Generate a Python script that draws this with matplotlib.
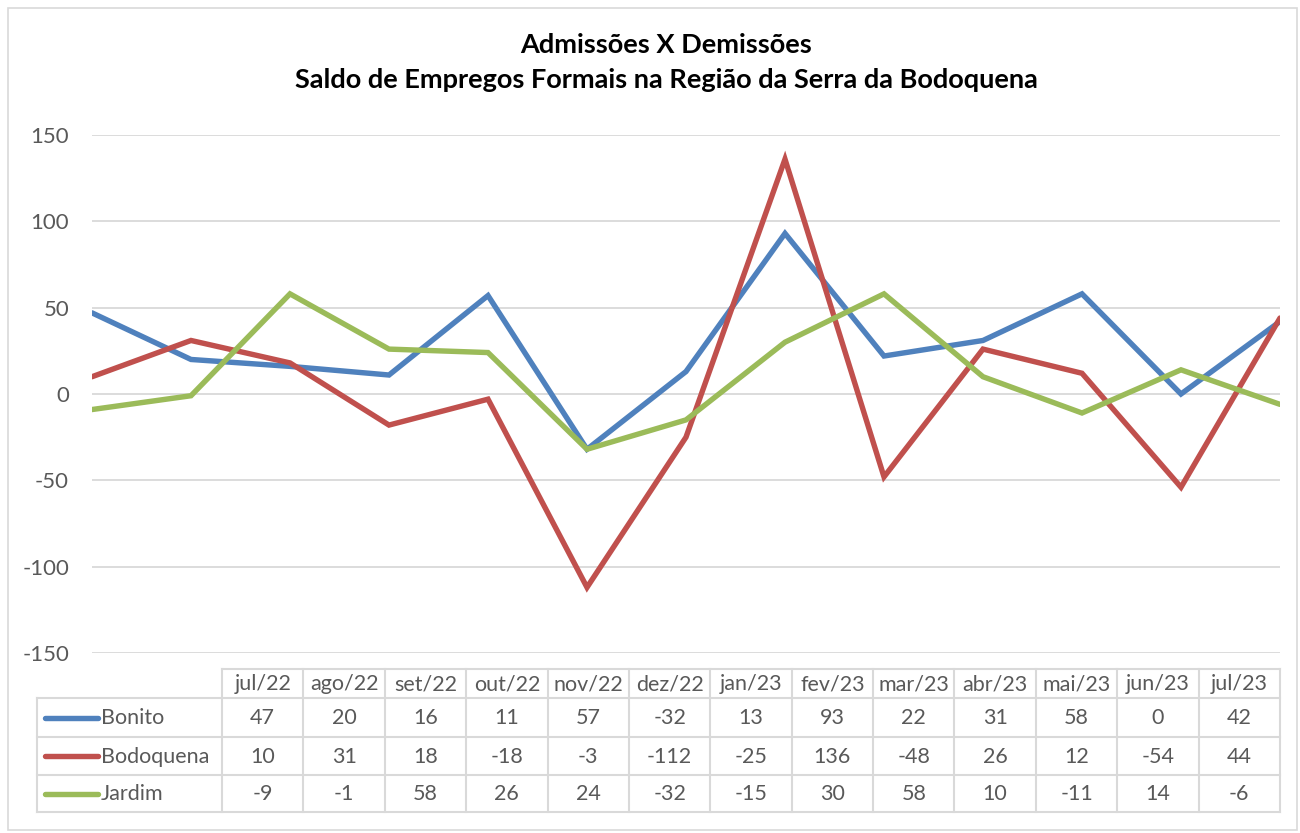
import numpy as np
import matplotlib.pyplot as plt
from matplotlib.patches import Rectangle

plt.rcParams['font.family'] = ['Lato', 'DejaVu Sans']
plt.rcParams['axes.unicode_minus'] = False

# dados
meses = ["jul/22", "ago/22", "set/22", "out/22", "nov/22", "dez/22", "jan/23",
         "fev/23", "mar/23", "abr/23", "mai/23", "jun/23", "jul/23"]
bonito = [47, 20, 16, 11, 57, -32, 13, 93, 22, 31, 58, 0, 42]
bodoquena = [10, 31, 18, -18, -3, -112, -25, 136, -48, 26, 12, -54, 44]
jardim = [-9, -1, 58, 26, 24, -32, -15, 30, 58, 10, -11, 14, -6]

series = [("Bonito", bonito, "#4F81BD"),
          ("Bodoquena", bodoquena, "#C0504D"),
          ("Jardim", jardim, "#9BBB59")]

W, H = 1300, 833
txt = "#595959"
grid = "#D9D9D9"

fig = plt.figure(figsize=(W / 100, H / 100), dpi=100)

# camada em pixels para moldura e tabela
ov = fig.add_axes([0, 0, 1, 1])
ov.set_xlim(0, W)
ov.set_ylim(H, 0)
ov.axis('off')
ov.add_patch(Rectangle((8, 8), 1289, 822, fill=False, edgecolor=grid, lw=1.2))

# grafico de linhas
ax = fig.add_axes([92 / W, 1 - 653 / H, (1280 - 92) / W, (653 - 135) / H])
ax.set_facecolor('none')
x = np.arange(len(meses))
for nome, vals, cor in series:
    ax.plot(x, vals, color=cor, lw=3.9, solid_capstyle='round', solid_joinstyle='miter')
ax.set_xlim(0, len(meses) - 1)
ax.set_ylim(-150, 150)
ax.set_yticks([-150, -100, -50, 0, 50, 100, 150])
ax.yaxis.grid(True, color=grid, lw=1.3)
ax.set_axisbelow(True)
ax.set_xticks([])
for s in ax.spines.values():
    s.set_visible(False)
ax.tick_params(axis='y', length=0, pad=16.5, labelsize=16, labelcolor=txt)

# titulo
fig.text(666 / W, 1 - 45 / H, "Admissões X Demissões", ha='center', va='center',
         fontsize=19.5, fontweight='bold', color='black')
fig.text(666 / W, 1 - 80 / H, "Saldo de Empregos Formais na Região da Serra da Bodoquena",
         ha='center', va='center', fontsize=19.5, fontweight='bold', color='black')

# tabela de dados
xe = np.linspace(222, 1280, len(meses) + 1)
ye = [669, 698, 737, 775, 812]
tc = "#D9D9D9"
lw = 1.5
fs = 15.5
# cabecalho
ov.plot([xe[0], xe[-1]], [ye[0], ye[0]], color=tc, lw=lw)
for i, m in enumerate(meses):
    ov.text((xe[i] + xe[i + 1]) / 2, (ye[0] + ye[1]) / 2 + 1, m, ha='center', va='center',
            fontsize=fs, color=txt)
for xv in xe:
    ov.plot([xv, xv], [ye[0], ye[-1]], color=tc, lw=lw)
for yv in ye[1:]:
    ov.plot([37, xe[-1]], [yv, yv], color=tc, lw=lw)
ov.plot([37, 37], [ye[1], ye[-1]], color=tc, lw=lw)

for r, (nome, vals, cor) in enumerate(series):
    yc = (ye[r + 1] + ye[r + 2]) / 2
    ov.plot([45, 98], [yc, yc], color=cor, lw=3.9, solid_capstyle='round')
    ov.text(101, yc + 1, nome, ha='left', va='center', fontsize=fs, color=txt)
    for i, v in enumerate(vals):
        ov.text((xe[i] + xe[i + 1]) / 2, yc + 1, str(v), ha='center', va='center',
                fontsize=fs, color=txt)

fig.savefig("out.png", dpi=100)
